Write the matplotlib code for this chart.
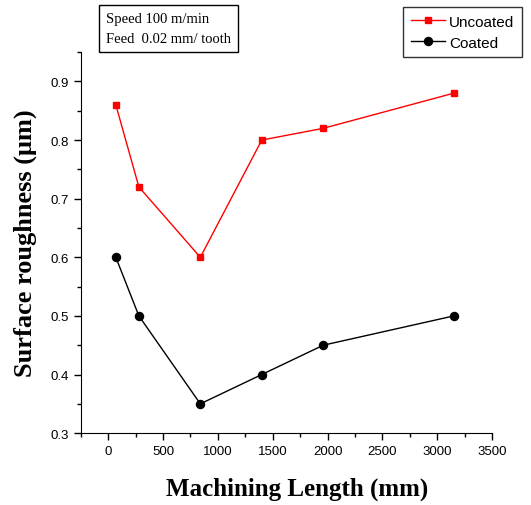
import numpy as np
import matplotlib
matplotlib.use("Agg")
import matplotlib.pyplot as plt
from matplotlib.ticker import MultipleLocator

# data
length_mm = [70, 280, 840, 1400, 1960, 3150]
uncoated = [0.86, 0.72, 0.60, 0.80, 0.82, 0.88]
coated = [0.60, 0.50, 0.35, 0.40, 0.45, 0.50]
x_ticks = [0, 500, 1000, 1500, 2000, 2500, 3000, 3500]
y_ticks = [0.3, 0.4, 0.5, 0.6, 0.7, 0.8, 0.9]

sans = "Liberation Sans"
serif = "Liberation Serif"

fig = plt.figure(figsize=(5.31, 5.06), dpi=100)
ax = fig.add_axes([0.152, 0.142, 0.775, 0.753])

ax.plot(length_mm, uncoated, color="red", marker="s", markersize=5,
        linewidth=1, label="Uncoated")
ax.plot(length_mm, coated, color="black", marker="o", markersize=5.8,
        linewidth=1, label="Coated")

ax.set_xlim(-250, 3500)
ax.set_ylim(0.3, 0.95)
ax.set_xticks(x_ticks)
ax.set_yticks(y_ticks)
ax.xaxis.set_minor_locator(MultipleLocator(250))
ax.yaxis.set_minor_locator(MultipleLocator(0.05))
ax.tick_params(which="major", direction="out", length=5, width=1)
ax.tick_params(which="minor", direction="out", length=3, width=1)
ax.set_xticklabels([str(v) for v in x_ticks], family=sans, fontsize=9.5)
ax.set_yticklabels([f"{v:.1f}" for v in y_ticks], family=sans, fontsize=9.5)

ax.spines["top"].set_visible(False)
ax.spines["right"].set_visible(False)

# x label sits a little right of the axes centre in the original
fig.text(297 / 531, 1 - 489 / 506, "Machining Length (mm)", family=serif,
         fontweight="bold", fontsize=18, ha="center", va="center")
ax.set_ylabel("Surface roughness (\u03bcm)", family=serif, fontweight="bold",
              fontsize=19, labelpad=10)

fig.text(0.2, 0.942, "Speed 100 m/min\nFeed  0.02 mm/ tooth", family=serif,
         fontsize=10.5, va="center", ha="left", linespacing=1.65,
         bbox=dict(boxstyle="square,pad=0.5", facecolor="white",
                   edgecolor="black", linewidth=1))

leg = fig.legend(loc="upper right", bbox_to_anchor=(0.983, 0.984),
                 prop={"family": sans, "size": 11}, frameon=True,
                 fancybox=False, edgecolor="black", handlelength=2.2,
                 borderpad=0.5, labelspacing=0.45, handletextpad=0.3,
                 borderaxespad=0)
leg.get_frame().set_linewidth(1)

fig.savefig("out.png", dpi=100)
